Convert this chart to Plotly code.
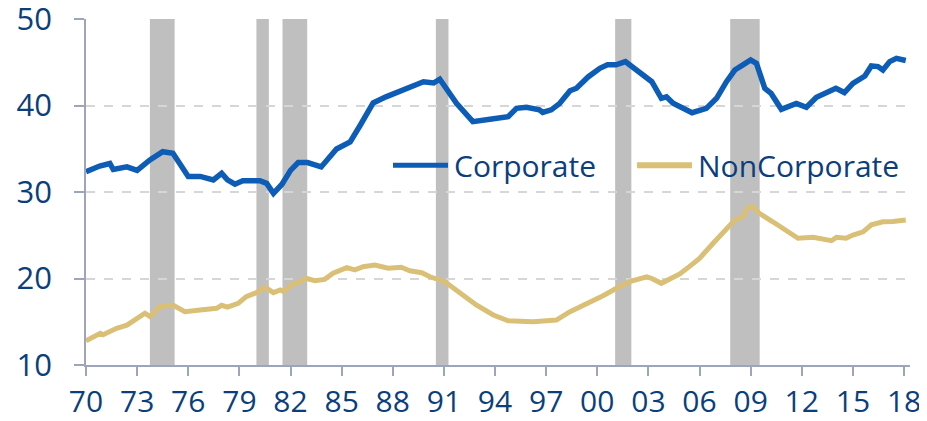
import plotly.graph_objects as go

# Corporate series (decimal year, value)
corp_x = [1970.0, 1970.8, 1971.4, 1971.6, 1972.4, 1973.0, 1973.75, 1974.5, 1975.1, 1976.0,
          1976.7, 1977.47, 1977.96, 1978.3, 1978.74, 1979.2, 1980.2, 1980.6, 1981.0, 1981.5,
          1982.0, 1982.45, 1983.0, 1983.8, 1984.7, 1985.5, 1986.1, 1986.85, 1987.6, 1988.4,
          1989.2, 1989.8, 1990.4, 1990.76, 1991.74, 1992.7, 1993.7, 1994.77, 1995.26, 1995.85,
          1996.6, 1996.8, 1997.3, 1997.8, 1998.4, 1998.78, 1999.46, 1999.75, 2000.15, 2000.6,
          2001.1, 2001.65, 2002.5, 2003.2, 2003.76, 2004.06, 2004.45, 2005.0, 2005.56, 2006.4,
          2007.0, 2007.58, 2008.07, 2008.55, 2009.0, 2009.34, 2009.83, 2010.2, 2010.5, 2010.8,
          2011.68, 2012.27, 2012.86, 2013.6, 2014.0, 2014.5, 2015.0, 2015.7, 2016.08, 2016.47,
          2016.76, 2017.16, 2017.55, 2018.1]
corp_y = [32.35, 33.0, 33.3, 32.6, 32.9, 32.5, 33.7, 34.66, 34.47, 31.8,
          31.8, 31.4, 32.16, 31.4, 30.9, 31.3, 31.3, 31.0, 29.85, 30.9,
          32.5, 33.4, 33.4, 32.9, 34.97, 35.8, 37.75, 40.3, 41.0, 41.6,
          42.17, 42.75, 42.6, 43.05, 40.25, 38.13, 38.4, 38.7, 39.67, 39.8,
          39.5, 39.2, 39.5, 40.25, 41.7, 42.0, 43.3, 43.7, 44.3, 44.7,
          44.7, 45.07, 43.7, 42.75, 40.83, 41.0, 40.25, 39.67, 39.17, 39.67,
          40.83, 42.75, 44.1, 44.7, 45.26, 44.88, 41.99, 41.4, 40.4, 39.56,
          40.25, 39.8, 40.95, 41.7, 42.0, 41.5, 42.56, 43.4, 44.57, 44.5,
          44.1, 45.07, 45.45, 45.2]

# NonCorporate series
nonc_x = [1970.0, 1970.84, 1971.0, 1971.8, 1972.4, 1973.0, 1973.46, 1973.75, 1974.34, 1975.1,
          1975.8, 1976.7, 1977.66, 1977.96, 1978.3, 1978.93, 1979.4, 1980.0, 1980.5, 1981.0,
          1981.4, 1981.6, 1982.06, 1982.55, 1982.94, 1983.43, 1984.0, 1984.5, 1985.3, 1985.78,
          1986.26, 1986.95, 1987.73, 1988.5, 1989.0, 1989.7, 1990.18, 1991.06, 1991.94, 1992.9,
          1993.9, 1994.77, 1996.24, 1997.6, 1998.4, 1999.37, 2000.34, 2001.13, 2001.9, 2002.9,
          2003.2, 2003.76, 2004.25, 2004.84, 2005.4, 2006.0, 2006.8, 2007.58, 2008.07, 2008.55,
          2008.84, 2009.14, 2009.53, 2010.3, 2010.9, 2011.78, 2012.66, 2013.74, 2014.03, 2014.6,
          2015.0, 2015.6, 2016.08, 2016.76, 2017.35, 2018.1]
nonc_y = [12.81, 13.66, 13.5, 14.24, 14.6, 15.4, 15.98, 15.6, 16.74, 16.94,
          16.16, 16.36, 16.55, 16.9, 16.7, 17.13, 17.9, 18.36, 18.98, 18.36,
          18.67, 18.5, 19.25, 19.63, 20.0, 19.75, 19.9, 20.6, 21.25, 21.0,
          21.37, 21.56, 21.18, 21.3, 20.9, 20.67, 20.2, 19.63, 18.4, 16.94,
          15.78, 15.12, 15.0, 15.2, 16.16, 17.05, 18.0, 18.87, 19.63, 20.2,
          20.0, 19.44, 20.0, 20.52, 21.37, 22.33, 24.07, 25.8, 26.76, 27.14,
          28.2, 28.3, 27.5, 26.56, 25.8, 24.65, 24.76, 24.37, 24.76, 24.65,
          25.03, 25.4, 26.2, 26.56, 26.6, 26.76]

# Recession periods (start, end)
rec_start = [1973.75, 1980.0, 1981.53, 1990.53, 2001.05, 2007.8]
rec_end = [1975.2, 1980.73, 1982.98, 1991.27, 2002.0, 2009.53]

tick_vals = list(range(1970, 2019, 3))
tick_text = ["70", "73", "76", "79", "82", "85", "88", "91", "94", "97",
             "00", "03", "06", "09", "12", "15", "18"]
y_ticks = [10, 20, 30, 40, 50]

BLUE = "#0d5cb6"
TAN = "#dac077"
NAVY = "#0b3f7c"
FONT = "Open Sans"

fig = go.Figure()
fig.add_trace(go.Scatter(x=corp_x, y=corp_y, mode="lines", name="Corporate",
                         line=dict(color=BLUE, width=5.5), showlegend=False))
fig.add_trace(go.Scatter(x=nonc_x, y=nonc_y, mode="lines", name="NonCorporate",
                         line=dict(color=TAN, width=5), showlegend=False))

for s, e in zip(rec_start, rec_end):
    fig.add_shape(type="rect", xref="x", yref="paper", x0=s, x1=e, y0=0, y1=1,
                  fillcolor="#bfbfbf", line=dict(width=0), layer="below")

# manual legend
leg_y = 0.577
for (x0, x1, tx, name, col, w) in [(0.3726, 0.4393, 0.4442, "Corporate", BLUE, 5),
                                   (0.6687, 0.7354, 0.7403, "NonCorporate", TAN, 6)]:
    fig.add_shape(type="line", xref="paper", yref="paper", x0=x0, x1=x1,
                  y0=leg_y, y1=leg_y, line=dict(color=col, width=w))
    fig.add_annotation(xref="paper", yref="paper", x=tx, y=leg_y, text=name,
                       showarrow=False, xanchor="left", yanchor="middle",
                       font=dict(family=FONT, size=30, color=NAVY))

# The page body has an 8px margin; margins below compensate for it.
fig.update_layout(
    width=915, height=413,
    margin=dict(l=78, r=13, t=11, b=56),
    paper_bgcolor="white", plot_bgcolor="white",
    font=dict(family=FONT, size=30, color=NAVY),
    xaxis=dict(range=[1970, 2018.35], tickvals=tick_vals, ticktext=tick_text,
               automargin=False, ticklabeloverflow="allow",
               showgrid=False, zeroline=False, showline=True, linecolor="#9ca5bb",
               linewidth=1.5, ticks="outside", ticklen=9, tickcolor="#9ca5bb",
               tickwidth=1.5, ticklabelstandoff=0,
               tickfont=dict(family=FONT, size=30, color=NAVY)),
    yaxis=dict(range=[10, 50], tickvals=y_ticks, showgrid=True, gridcolor="#d6d6d6",
               automargin=False, ticklabeloverflow="allow",
               griddash="dash", gridwidth=1.5, zeroline=False, showline=True,
               linecolor="#9ca5bb", linewidth=1.5, ticks="outside", ticklen=10,
               tickcolor="#9ca5bb", tickwidth=1.5, ticklabelstandoff=16,
               tickfont=dict(family=FONT, size=31, color=NAVY)),
)

fig.write_html("out.html")
